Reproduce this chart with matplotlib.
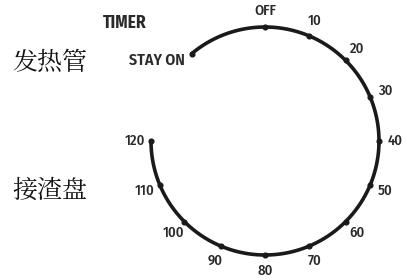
import matplotlib as mpl
import matplotlib.pyplot as plt
import numpy as np

mpl.use("Agg")

# ─── Data ────────────────────────────────────────────────────────────────
minutes = [0, 10, 20, 30, 40, 50, 60, 70, 80, 90, 100, 110, 120]
tick_labels = ["OFF", "10", "20", "30", "40", "50", "60", "70", "80", "90", "100", "110", "120"]
stay_on_angle = -40.0      # degrees clockwise from top, where the arc starts
deg_per_minute = 2.25      # dial sweep: 120 min -> 270 degrees
cn_labels = ["发热管", "接渣盘"]

W, H = 406, 280
CX, CY, R = 265, 141, 114   # dial centre / radius in pixels
LABEL_FONT = ["Fira Sans Condensed", "DejaVu Sans"]
CN_FONT = ["Noto Serif CJK SC", "Noto Sans CJK SC", "DejaVu Sans"]
INK = "#1a1a1a"

fig = plt.figure(figsize=(W / 100, H / 100), dpi=100)
fig.patch.set_facecolor("white")

ax = fig.add_axes([(CX - R) / W, (H - CY - R) / H, 2 * R / W, 2 * R / H], polar=True)
ax.set_theta_zero_location("N")
ax.set_theta_direction(-1)
ax.set_ylim(0, 1)
ax.axis("off")

# arc from STAY ON through OFF to 120
theta_end = minutes[-1] * deg_per_minute
th = np.radians(np.linspace(stay_on_angle, theta_end, 400))
ax.plot(th, np.ones_like(th), color=INK, lw=2.6, solid_capstyle="round", clip_on=False)

# tick dots and labels
theta_ticks = np.radians(np.array(minutes) * deg_per_minute)
ax.plot(theta_ticks, np.ones_like(theta_ticks), "o", color=INK, ms=3.4, clip_on=False)
ax.plot([np.radians(stay_on_angle)], [1], "o", color=INK, ms=3.4, clip_on=False)
for t, lab in zip(theta_ticks, tick_labels):
    ax.text(t, 1.14, lab, ha="center", va="center", fontsize=10.5,
            family=LABEL_FONT, fontweight="medium", color="#2a2a2a", clip_on=False)

# static texts
fig.text(125 / W, 1 - 23 / H, "TIMER", ha="center", va="center", fontsize=12.5,
         fontweight="bold", family=LABEL_FONT, color="#2a2a2a")
fig.text(185 / W, 1 - 60 / H, "STAY ON", ha="right", va="center", fontsize=11.5,
         fontweight="semibold", family=LABEL_FONT, color="#2a2a2a")
fig.text(50 / W, 1 - 63 / H, cn_labels[0], ha="center", va="center", fontsize=18,
         family=CN_FONT, color="#111111")
fig.text(50 / W, 1 - 190 / H, cn_labels[1], ha="center", va="center", fontsize=18,
         family=CN_FONT, color="#111111")

fig.savefig("out.png", dpi=100, facecolor="white")
